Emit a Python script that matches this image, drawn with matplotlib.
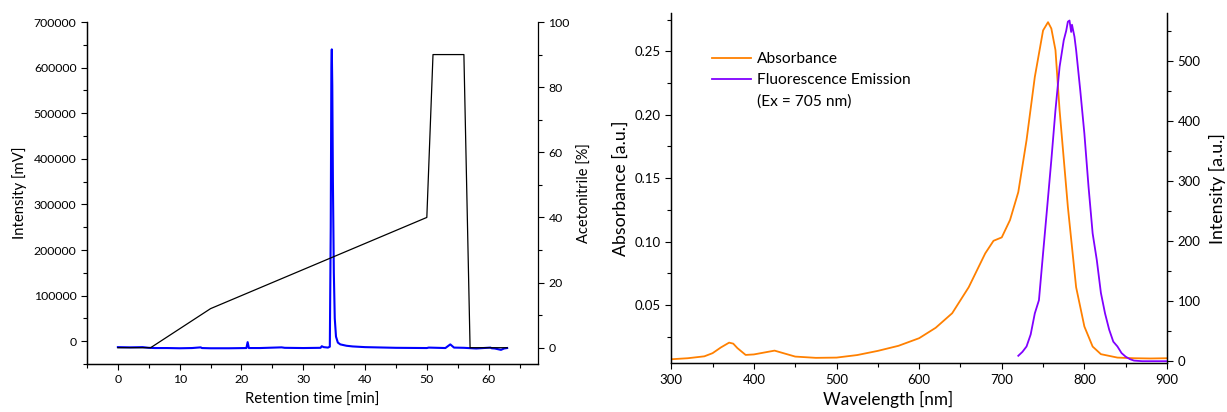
import matplotlib
matplotlib.use("Agg")
import matplotlib.pyplot as plt
from matplotlib.ticker import MultipleLocator
from matplotlib.lines import Line2D

plt.rcParams['font.family'] = ['Lato', 'DejaVu Sans']

# ---- HPLC chromatogram (left) ----
hplc_t = [0, 2, 4, 5, 6, 8, 10, 12, 13.4, 13.6, 15, 18, 20.8, 21.0, 21.2,
          23, 26.5, 27, 30, 32.8, 33.0, 33.3, 34.0, 34.3, 34.45, 34.55,
          34.62, 34.7, 34.8, 34.95, 35.1, 35.3, 35.6, 36, 37, 38, 40, 45,
          50, 50.3, 53, 53.8, 54.4, 56, 58, 60.3, 60.5, 61, 62, 62.5, 63]
hplc_mv = [-13000, -13500, -13000, -14500, -15000, -15000, -15500, -15000,
           -13500, -15000, -15500, -15500, -15000, -2000, -15000,
           -15000, -13500, -14500, -15000, -14500, -11000, -13000, -14000,
           -12000, 250000, 600000,
           640000, 560000, 350000, 150000, 50000, 10000, -3000, -7000,
           -10000, -11500, -13000, -14500,
           -15000, -14000, -15000, -7000, -14000, -14500, -16000, -14000,
           -15500, -16000, -19000, -16000, -15000]

# acetonitrile gradient
grad_t = [0, 5.3, 15, 50, 51, 56, 57, 63]
grad_pct = [0, 0, 12, 40, 90, 90, 0, 0]

# ---- absorbance / fluorescence (right) ----
abs_nm = [300, 320, 340, 350, 360, 370, 375, 380, 390, 400, 425, 450, 475,
          500, 525, 550, 575, 600, 620, 640, 660, 680, 690, 700, 710, 720,
          730, 740, 750, 756, 760, 765, 770, 780, 790, 800, 810, 820, 840,
          860, 880, 900]
abs_val = [0.0072, 0.0080, 0.0095, 0.0120, 0.0165, 0.0203, 0.0195, 0.0160,
           0.0106, 0.0110, 0.0140, 0.0093, 0.0083,
           0.0085, 0.0105, 0.0138, 0.0178, 0.0238, 0.0320, 0.0435, 0.0640,
           0.0907, 0.1006, 0.1033, 0.1170, 0.1390,
           0.1800, 0.2298, 0.2665, 0.2730, 0.2680, 0.2510, 0.2035, 0.1274,
           0.0640, 0.0330, 0.0172, 0.0112, 0.0085,
           0.0080, 0.0078, 0.0080]

fl_nm = [720, 725, 730, 735, 740, 745, 750, 755, 760, 765, 770, 775, 778,
         780, 782, 784, 785, 788, 790, 795, 800, 805, 810, 815, 820, 825,
         830, 835, 840, 845, 850, 855, 860, 870, 880, 890, 900]
fl_int = [9.5, 16, 25, 45, 80, 102, 180, 257, 335, 418, 490, 534, 550,
          565, 567, 548, 560, 540, 518, 451, 379, 291, 213, 169, 114, 80,
          53, 33, 25, 14, 8, 4, 1.5, 0.5, 0.5, 0.5, 0.5]

fig = plt.figure(figsize=(12.27, 4.12), dpi=100)

# left panel
ax1 = fig.add_axes([0.0709, 0.1165, 0.3676, 0.8301])
ax1.plot(hplc_t, hplc_mv, color='#0000FF', lw=1.5, zorder=3)
ax1.set_xlim(-5, 68)
ax1.set_ylim(-50000, 700000)
ax1.xaxis.set_major_locator(MultipleLocator(10))
ax1.xaxis.set_minor_locator(MultipleLocator(5))
ax1.yaxis.set_major_locator(MultipleLocator(100000))
ax1.yaxis.set_minor_locator(MultipleLocator(50000))
ax1.set_xlabel('Retention time [min]', fontsize=10.7, labelpad=5)
ax1.set_ylabel('Intensity [mV]', fontsize=10.7, labelpad=5)
ax1.spines['top'].set_visible(False)
ax1.spines['right'].set_visible(False)

ax1b = ax1.twinx()
ax1b.plot(grad_t, grad_pct, color='black', lw=0.9, zorder=2)
ax1b.set_ylim(-5, 100)
ax1b.yaxis.set_major_locator(MultipleLocator(20))
ax1b.yaxis.set_minor_locator(MultipleLocator(10))
ax1b.set_ylabel('Acetonitrile [%]', fontsize=10.5, labelpad=6)
ax1b.spines['top'].set_visible(False)

# right panel
ax2 = fig.add_axes([0.5471, 0.1182, 0.4040, 0.8495])
l1, = ax2.plot(abs_nm, abs_val, color='#FF8000', lw=1.3, label='Absorbance')
ax2.set_xlim(300, 900)
ax2.set_ylim(0.004, 0.28)
ax2.xaxis.set_major_locator(MultipleLocator(100))
ax2.xaxis.set_minor_locator(MultipleLocator(50))
ax2.yaxis.set_major_locator(MultipleLocator(0.05))
ax2.yaxis.set_minor_locator(MultipleLocator(0.025))
ax2.set_xlabel('Wavelength [nm]', fontsize=12.3, labelpad=1)
ax2.xaxis.set_label_coords(0.437, -0.078)
ax2.set_ylabel('Absorbance [a.u.]', fontsize=12.8, labelpad=4)
ax2.spines['top'].set_visible(False)

ax2b = ax2.twinx()
l2, = ax2b.plot(fl_nm, fl_int, color='#8000FF', lw=1.3)
ax2b.set_ylim(-3, 579)
ax2b.yaxis.set_major_locator(MultipleLocator(100))
ax2b.yaxis.set_minor_locator(MultipleLocator(50))
ax2b.set_ylabel('Intensity [a.u.]', fontsize=12.8, labelpad=6)
ax2b.spines['top'].set_visible(False)

for a in (ax1, ax1b, ax2, ax2b):
    a.tick_params(which='both', direction='out', labelsize=9.5, width=0.8)
    a.tick_params(which='major', length=4)
    a.tick_params(which='minor', length=3)
    for s in a.spines.values():
        s.set_linewidth(0.9)
ax1.tick_params(labelsize=8.8)
ax1b.tick_params(labelsize=8.8)

blank = Line2D([], [], color='none')
ax2.legend([l1, l2, blank],
           ['Absorbance', 'Fluorescence Emission', '(Ex = 705 nm)'],
           loc='upper left', bbox_to_anchor=(0.06, 0.92), frameon=False,
           fontsize=11.2, handlelength=2.5, handletextpad=0.4,
           labelspacing=0.45, borderaxespad=0.3)

fig.savefig('out.png', dpi=100)
